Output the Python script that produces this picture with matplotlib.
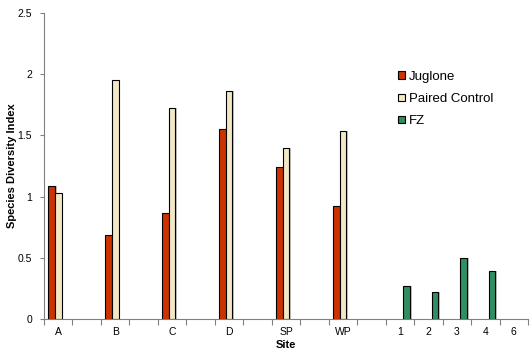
import numpy as np
import matplotlib.pyplot as plt

# site labels; blank slots keep the letter sites spaced apart
sites = ['A', '', 'B', '', 'C', '', 'D', '', 'SP', '', 'WP', '', '1', '2', '3', '4', '6']
juglone = [1.09, 0, 0.69, 0, 0.87, 0, 1.55, 0, 1.24, 0, 0.92, 0, 0, 0, 0, 0, 0]
paired_control = [1.03, 0, 1.95, 0, 1.72, 0, 1.86, 0, 1.40, 0, 1.54, 0, 0, 0, 0, 0, 0]
fz = [0, 0, 0, 0, 0, 0, 0, 0, 0, 0, 0, 0, 0.27, 0.22, 0.50, 0.39, 0]

plt.rcParams['font.family'] = ['Liberation Sans', 'DejaVu Sans']

fig = plt.figure(figsize=(5.3, 3.5), dpi=100)
ax = fig.add_axes([44 / 530, 31 / 350, 484 / 530, 306 / 350])

x = np.arange(len(sites))
w = 0.235
series = [
    (juglone, -w, '#CC3300', 'Juglone'),
    (paired_control, 0, '#F2E8C6', 'Paired Control'),
    (fz, w, '#2F8F62', 'FZ'),
]

# drop shadow first, then the bars themselves
for vals, off, col, lab in series:
    v = np.array(vals, dtype=float)
    m = v > 0
    ax.bar(x[m] + off + 0.06, v[m], width=w, color='#9a9a9a', alpha=0.6,
           linewidth=0, zorder=1)
for vals, off, col, lab in series:
    v = np.array(vals, dtype=float)
    m = v > 0
    ax.bar(x[m] + off, v[m], width=w, color=col, edgecolor='black',
           linewidth=0.8, zorder=2, label=lab)

ax.set_xlim(-0.5, len(sites) - 0.5)
ax.set_ylim(0, 2.5)
ax.set_yticks([0, 0.5, 1, 1.5, 2, 2.5])
ax.set_yticklabels(['0', '0.5', '1', '1.5', '2', '2.5'])

# category labels in the middle, tick marks on the boundaries
ax.set_xticks(x)
ax.set_xticklabels(sites)
ax.tick_params(axis='x', which='major', length=0, labelsize=7.5, pad=6)
ax.set_xticks(np.arange(len(sites) + 1) - 0.5, minor=True)
ax.tick_params(axis='x', which='minor', length=4, color='#808080', width=0.8)
ax.tick_params(axis='y', length=3, color='#808080', width=0.8, labelsize=7.5, pad=5.5)

for s in ['top', 'right']:
    ax.spines[s].set_visible(False)
for s in ['left', 'bottom']:
    ax.spines[s].set_color('#808080')
    ax.spines[s].set_linewidth(0.8)

ax.set_xlabel('Site', fontsize=8, fontweight='bold', labelpad=2)
ax.set_ylabel('Species Diversity Index', fontsize=8, fontweight='bold')
ax.yaxis.set_label_coords(-0.056, 0.5)

ax.legend(loc='upper left', bbox_to_anchor=(0.707, 0.85), frameon=False,
          fontsize=9.5, handlelength=0.5, handleheight=0.5, handletextpad=0.3,
          labelspacing=0.78)

fig.savefig('out.png', dpi=100)
